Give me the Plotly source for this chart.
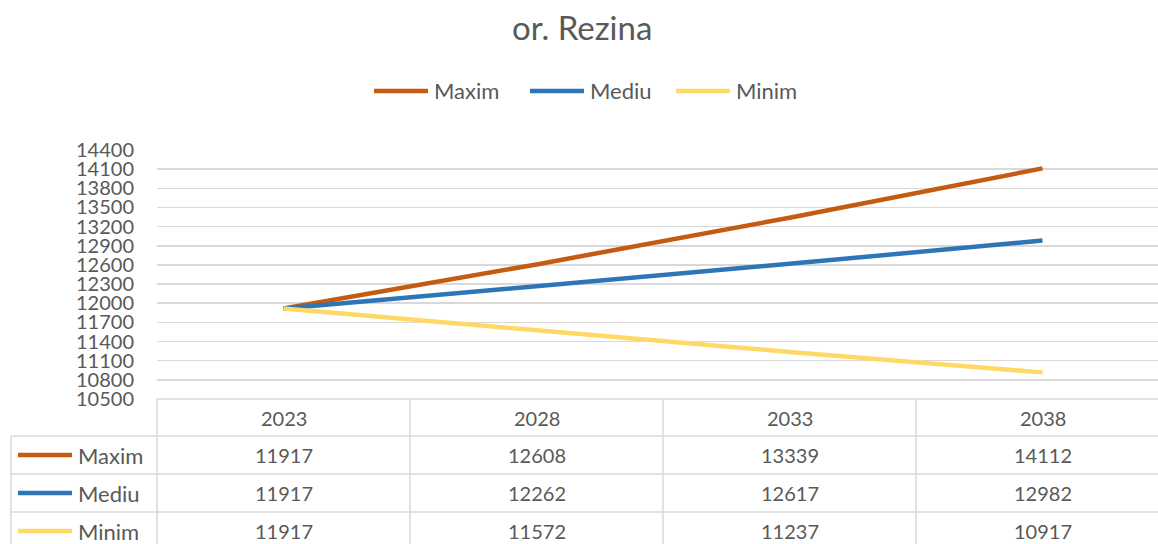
import plotly.graph_objects as go

# ---- data ----
years = ["2023", "2028", "2033", "2038"]
maxim = [11917, 12608, 13339, 14112]
mediu = [11917, 12262, 12617, 12982]
minim = [11917, 11572, 11237, 10917]
series_names = ["Maxim", "Mediu", "Minim"]
series_values = [maxim, mediu, minim]
colors = ["#C55A11", "#2E75B6", "#FFD966"]
y_ticks = list(range(10500, 14401, 300))

W, H = 1158, 544
FONT = "Lato"
TXT = "#595959"
GRID = "#D9D9D9"


def px(x):
    return x / W


def py(y):
    return 1 - y / H


fig = go.Figure()
for name, vals, col in zip(series_names, series_values, colors):
    fig.add_trace(go.Scatter(x=years, y=vals, mode="lines", name=name,
                             line=dict(color=col, width=4.5), showlegend=False))

plot_left, plot_top, plot_bottom = 157, 150, 399
col_w = 253
cat_right = -0.5 + (W - plot_left) / col_w

fig.update_layout(
    width=W, height=H,
    autosize=False,
    margin=dict(l=0, r=0, t=0, b=0, pad=0, autoexpand=False),
    paper_bgcolor="white", plot_bgcolor="white",
    font=dict(family=FONT, color=TXT, size=20),
    xaxis=dict(type="category", range=[-0.5, cat_right], domain=[px(plot_left), 1],
               showticklabels=False, showgrid=False, zeroline=False, ticks="",
               automargin=False),
    yaxis=dict(range=[10500, 14400], domain=[py(plot_bottom), py(plot_top)],
               tickvals=y_ticks, ticktext=[str(v) for v in y_ticks],
               showgrid=True, gridcolor=GRID, gridwidth=1.5, zeroline=False,
               ticks="", ticklabelstandoff=22, tickfont=dict(size=20, color=TXT),
               automargin=False),
    showlegend=False,
    hovermode=False,
)

shapes = []
annotations = []

# title
annotations.append(dict(text="or. Rezina", x=px(582), y=py(27), xref="paper", yref="paper",
                        showarrow=False, font=dict(size=33, color=TXT, family=FONT),
                        xanchor="center", yanchor="middle"))

# legend (manual)
leg_y = 91
leg_x = [374, 530, 676]
for name, col, lx in zip(series_names, colors, leg_x):
    shapes.append(dict(type="line", xref="paper", yref="paper", x0=px(lx), x1=px(lx + 54),
                       y0=py(leg_y), y1=py(leg_y), line=dict(color=col, width=4.5)))
    annotations.append(dict(text=name, x=px(lx + 58), y=py(leg_y), xref="paper", yref="paper",
                            showarrow=False, xanchor="left", yanchor="middle",
                            font=dict(size=22, color=TXT, family=FONT)))

# data table
row_edges = [399, 436, 474, 512, 550]
col_edges = [plot_left + i * col_w for i in range(5)]
tl = dict(color=GRID, width=1.5)
# horizontal lines
shapes.append(dict(type="line", xref="paper", yref="paper", x0=px(plot_left), x1=1,
                   y0=py(row_edges[0]), y1=py(row_edges[0]), line=tl))
for ry in row_edges[1:4]:
    shapes.append(dict(type="line", xref="paper", yref="paper", x0=px(11), x1=1,
                       y0=py(ry), y1=py(ry), line=tl))
# vertical lines
shapes.append(dict(type="line", xref="paper", yref="paper", x0=px(11), x1=px(11),
                   y0=py(row_edges[1]), y1=0, line=tl))
for cx in col_edges[:4]:
    shapes.append(dict(type="line", xref="paper", yref="paper", x0=px(cx), x1=px(cx),
                       y0=py(row_edges[0]), y1=0, line=tl))

# header
for i, yr in enumerate(years):
    cx = col_edges[i] + col_w / 2
    annotations.append(dict(text=yr, x=px(cx), y=py((row_edges[0] + row_edges[1]) / 2),
                            xref="paper", yref="paper", showarrow=False,
                            xanchor="center", yanchor="middle",
                            font=dict(size=20, color=TXT, family=FONT)))
# rows
for r, (name, vals, col) in enumerate(zip(series_names, series_values, colors)):
    cy = (row_edges[r + 1] + row_edges[r + 2]) / 2
    shapes.append(dict(type="line", xref="paper", yref="paper", x0=px(18), x1=px(72),
                       y0=py(cy), y1=py(cy), line=dict(color=col, width=4.5)))
    annotations.append(dict(text=name, x=px(76), y=py(cy), xref="paper", yref="paper",
                            showarrow=False, xanchor="left", yanchor="middle",
                            font=dict(size=22, color=TXT, family=FONT)))
    for i, v in enumerate(vals):
        cx = col_edges[i] + col_w / 2
        annotations.append(dict(text=str(v), x=px(cx), y=py(cy), xref="paper", yref="paper",
                                showarrow=False, xanchor="center", yanchor="middle",
                                font=dict(size=20, color=TXT, family=FONT)))

fig.update_layout(shapes=shapes, annotations=annotations)
fig.write_html("out.html",
               config={"displayModeBar": False, "staticPlot": True},
               post_script="document.body.style.margin='0';document.body.style.overflow='hidden';")
